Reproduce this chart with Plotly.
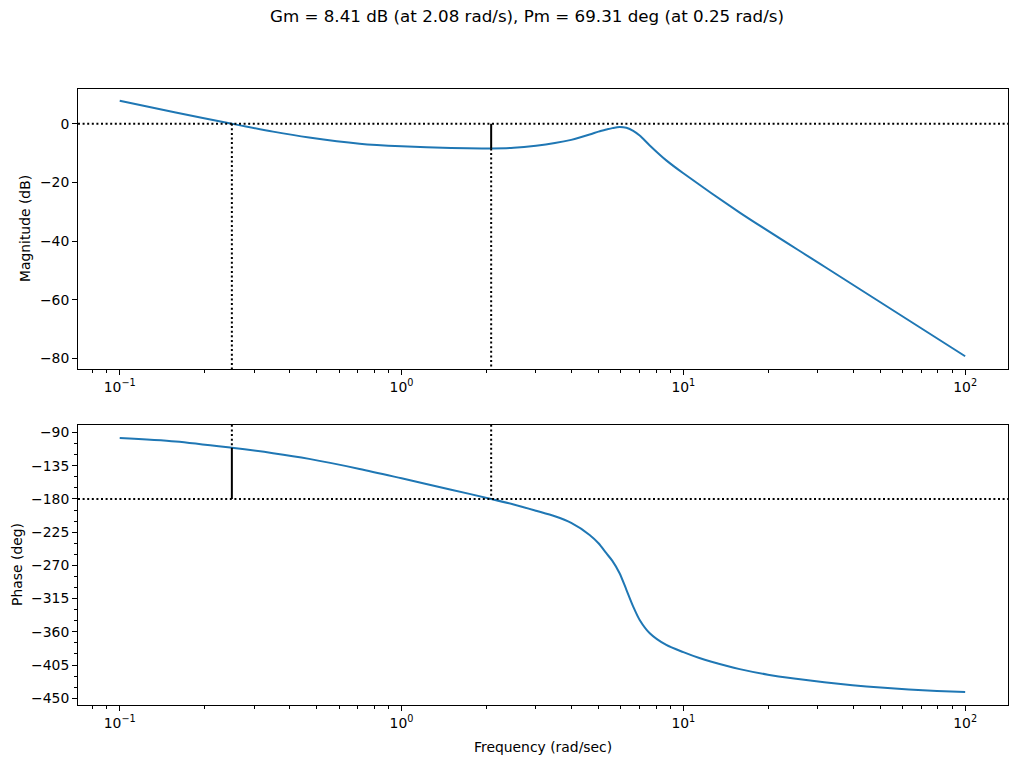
import plotly.graph_objects as go

# ---- data ----
freq_mag = [0.1, 0.158, 0.25, 0.35, 0.47, 0.71, 1.0, 1.5, 2.08, 2.5, 3.0, 3.5, 4.0, 4.65, 5.0,
            5.33, 5.6, 5.94, 6.28, 6.64, 7.0, 7.6, 8.7, 10, 15.85, 31.62, 100]
mag_db = [7.8, 3.85, 0.0, -2.7, -4.7, -6.8, -7.7, -8.3, -8.41, -8.2, -7.5, -6.6, -5.5, -3.7,
          -2.7, -2.0, -1.5, -1.1, -1.4, -2.4, -4.0, -7.4, -12.5, -16.9, -30.3, -48.7, -79.3]

freq_phase = [0.1, 0.158, 0.25, 0.35, 0.47, 0.71, 1.0, 1.5, 2.08, 2.5, 3.0, 3.5, 4.0, 4.65, 5.0,
              5.33, 5.6, 5.94, 6.28, 6.64, 7.0, 7.6, 8.7, 10, 11.4, 12.59, 15.85, 19.95, 25.12,
              31.62, 39.81, 50.12, 63.1, 79.43, 100]
phase_deg = [-97.3, -102.0, -110.7, -118.0, -125.7, -139.3, -152.0, -167.4, -180.0, -187.5,
             -196.0, -203.5, -212.5, -228.7, -240.0, -253.5, -263.9, -280.6, -303.0,
             -325.8, -343.9, -361.9, -377.8, -387.5, -395.5, -400.5, -410.5, -418.0,
             -423.5, -428.3, -432.3, -435.5, -438.0, -440.0, -441.5]

GM_DB = 8.41     # gain margin
WCG = 2.08       # phase crossover freq
PM_DEG = 69.31   # phase margin
WCP = 0.25       # gain crossover freq

x_tickvals = [0.1, 1, 10, 100]
x_ticktext = ["10<sup>\u22121</sup>", "10<sup>0</sup>", "10<sup>1</sup>", "10<sup>2</sup>"]
x_minor = [0.08, 0.09] + [k * 0.1 for k in range(2, 10)] + list(range(2, 10)) + [k * 10 for k in range(2, 10)]
mag_ticks = [0, -20, -40, -60, -80]
phase_ticks = [-90, -135, -180, -225, -270, -315, -360, -405, -450]
phase_minor = list(range(-450, -75, 15))

X_RANGE = [-1.148, 2.152]
MAG_RANGE = [-83.7, 11.84]
PH_RANGE = [-459.1, -79.6]

def lab(v):
    return str(v).replace("-", "\u2212")

BLUE = "#1f77b4"
FONT = "DejaVu Sans"
DOT = "2px,2.6px"
LW = 2

fig = go.Figure()

# curves
fig.add_trace(go.Scatter(x=freq_mag, y=mag_db, mode="lines", xaxis="x", yaxis="y",
                         line=dict(color=BLUE, width=LW, shape="spline", smoothing=0.8)))
fig.add_trace(go.Scatter(x=freq_phase, y=phase_deg, mode="lines", xaxis="x2", yaxis="y2",
                         line=dict(color=BLUE, width=LW, shape="spline", smoothing=0.8)))

def seg(x, y, ax, dash):
    fig.add_trace(go.Scatter(x=x, y=y, mode="lines", xaxis=ax[0], yaxis=ax[1],
                             line=dict(color="black", width=LW, dash=dash)))

# magnitude markers
seg([WCP, WCP], [0, MAG_RANGE[0]], ("x", "y"), DOT)
seg([WCG, WCG], [0, -GM_DB], ("x", "y"), "solid")
seg([WCG, WCG], [-GM_DB, MAG_RANGE[0]], ("x", "y"), DOT)
# phase markers
seg([WCP, WCP], [PH_RANGE[1], -180 + PM_DEG], ("x2", "y2"), DOT)
seg([WCP, WCP], [-180 + PM_DEG, -180], ("x2", "y2"), "solid")
seg([WCG, WCG], [PH_RANGE[1], -180], ("x2", "y2"), DOT)

# horizontal reference lines
fig.add_shape(type="line", xref="x domain", yref="y", x0=0, x1=1, y0=0, y1=0,
              line=dict(color="black", width=LW, dash=DOT))
fig.add_shape(type="line", xref="x2 domain", yref="y2", x0=0, x1=1, y0=-180, y1=-180,
              line=dict(color="black", width=LW, dash=DOT))

FS = 13.9
tickfont = dict(family=FONT, size=FS, color="black")
xcommon = dict(type="log", range=X_RANGE, showgrid=False, zeroline=False, showline=True,
               mirror=True, linecolor="black", linewidth=1.1, ticks="outside", ticklen=4.9,
               tickwidth=1.1, tickcolor="black", tickvals=x_tickvals, ticktext=x_ticktext,
               tickfont=tickfont,
               minor=dict(tickvals=x_minor, ticks="outside", ticklen=2.8, tickwidth=0.8,
                          tickcolor="black", showgrid=False))
ycommon = dict(showgrid=False, zeroline=False, showline=True, mirror=True, linecolor="black",
               linewidth=1.1, ticks="outside", ticklen=4.9, tickwidth=1.1, tickcolor="black",
               tickfont=tickfont)

fig.update_layout(
    width=1017, height=763,
    margin=dict(l=78, r=9, t=89, b=58),
    paper_bgcolor="white", plot_bgcolor="white",
    showlegend=False,
    font=dict(family=FONT, size=FS, color="black"),
    xaxis=dict(**xcommon, anchor="y"),
    xaxis2=dict(**xcommon, anchor="y2"),
    yaxis=dict(**ycommon, domain=[0.5452, 1], anchor="x", range=MAG_RANGE,
               tickvals=mag_ticks, ticktext=[lab(v) for v in mag_ticks]),
    yaxis2=dict(**ycommon, domain=[0, 0.4548], anchor="x2", range=PH_RANGE,
                tickvals=phase_ticks, ticktext=[lab(v) for v in phase_ticks],
                minor=dict(tickvals=phase_minor, ticks="outside", ticklen=2.8, tickwidth=0.8,
                           tickcolor="black", showgrid=False)),
    title=dict(text=f"Gm = {GM_DB:.2f} dB (at {WCG:.2f} rad/s), Pm = {PM_DEG:.2f} deg (at {WCP:.2f} rad/s)",
               x=527 / 1017, y=1 - 16 / 763, xanchor="center", yanchor="middle",
               font=dict(family=FONT, size=16.7, color="black")),
    annotations=[
        dict(text="Magnitude (dB)", xref="paper", yref="y domain", x=0, y=0.5,
             xshift=-53, textangle=-90, showarrow=False, xanchor="center", yanchor="middle",
             font=dict(family=FONT, size=FS, color="black")),
        dict(text="Phase (deg)", xref="paper", yref="y2 domain", x=0, y=0.5,
             xshift=-61, textangle=-90, showarrow=False, xanchor="center", yanchor="middle",
             font=dict(family=FONT, size=FS, color="black")),
        dict(text="Frequency (rad/sec)", xref="x2 domain", yref="paper", x=0.5, y=0,
             yshift=-42, showarrow=False, xanchor="center", yanchor="middle",
             font=dict(family=FONT, size=FS, color="black")),
    ],
)

fig.write_html("out.html")
